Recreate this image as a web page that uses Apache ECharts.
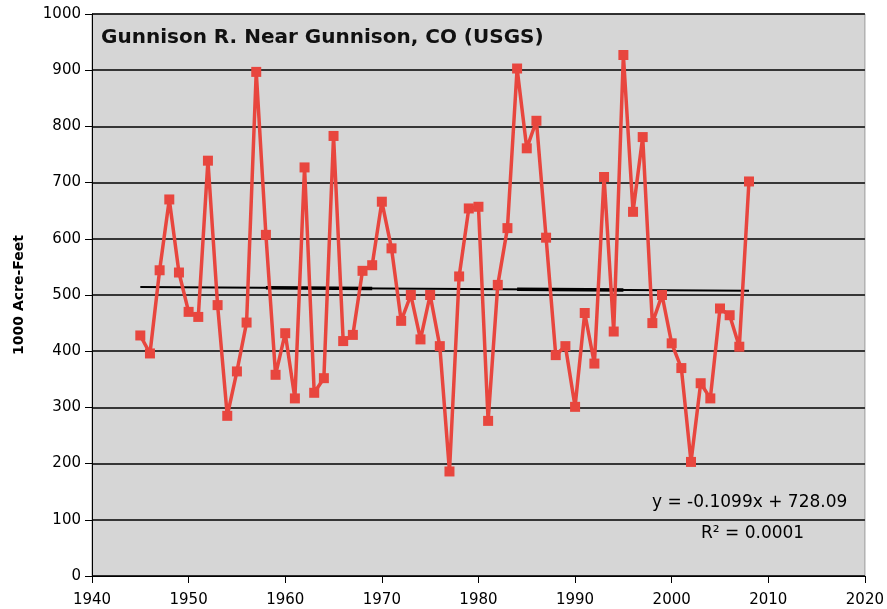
<!DOCTYPE html>
<html>
<head>
<meta charset="utf-8">
<script src="https://cdn.jsdelivr.net/npm/echarts@6/dist/echarts.min.js"></script>
<style>html,body{margin:0;padding:0;background:#fff}#c{width:887px;height:609px}</style>
</head>
<body>
<div id="c"></div>
<script>
const years = [1945,1946,1947,1948,1949,1950,1951,1952,1953,1954,1955,1956,1957,1958,1959,1960,1961,1962,1963,1964,1965,1966,1967,1968,1969,1970,1971,1972,1973,1974,1975,1976,1977,1978,1979,1980,1981,1982,1983,1984,1985,1986,1987,1988,1989,1990,1991,1992,1993,1994,1995,1996,1997,1998,1999,2000,2001,2002,2003,2004,2005,2006,2007,2008];
const flows = [428,396,544,670,540,470,461,739,482,285,364,451,897,607,358,432,316,727,326,352,783,418,429,543,553,666,583,454,500,421,500,409,186,533,654,657,276,518,619,903,761,810,602,393,409,301,468,378,710,435,927,648,781,450,500,414,370,203,343,316,476,464,408,702];
const xTicks = [1940,1950,1960,1970,1980,1990,2000,2010,2020];
const yTicks = [0,100,200,300,400,500,600,700,800,900,1000];
const trendSlope = -0.1099, trendIntercept = 728.09;
const trendYears = [1945, 2008];
const thickSeg1 = [1958, 1969];
const thickSeg2 = [1984, 1995];

const trendVal = y => trendSlope * y + trendIntercept;
const chart = echarts.init(document.getElementById('c'));
const font = 'DejaVu Sans, Verdana, sans-serif';
chart.setOption({
  animation: false,
  grid: {left: 92, right: 22, top: 14, bottom: 33, show: true, backgroundColor: '#d6d6d6', borderColor: '#9a9a9a', borderWidth: 1},
  title: {text: 'Gunnison R. Near Gunnison, CO (USGS)', left: 96, top: 23,
    textStyle: {fontFamily: font, fontWeight: 'bold', fontSize: 20, color: '#111'}},
  xAxis: {type: 'value', min: xTicks[0], max: xTicks[xTicks.length-1], interval: 10,
    axisLine: {lineStyle: {color: '#000', width: 1}},
    axisTick: {show: true, length: 7, lineStyle: {color: '#000'}},
    axisLabel: {color: '#000', fontFamily: font, fontSize: 15, margin: 17, formatter: v => String(v)},
    splitLine: {show: false}},
  yAxis: {type: 'value', min: yTicks[0], max: yTicks[yTicks.length-1], interval: 100,
    name: '1000 Acre-Feet', nameLocation: 'middle', nameGap: 66, nameRotate: 90,
    nameTextStyle: {fontFamily: font, fontWeight: 'bold', fontSize: 14, color: '#000'},
    axisLine: {show: true, lineStyle: {color: '#000', width: 1}},
    axisTick: {show: true, length: 7, lineStyle: {color: '#000'}},
    axisLabel: {color: '#000', fontFamily: font, fontSize: 15, margin: 11, formatter: v => String(v)},
    splitLine: {show: true, lineStyle: {color: '#000', width: 1.5}}},
  graphic: [
    {type: 'text', left: 652, top: 494, style: {text: 'y = -0.1099x + 728.09', font: '17px ' + font, fill: '#000'}},
    {type: 'text', left: 701, top: 525, style: {text: 'R² = 0.0001', font: '17px ' + font, fill: '#000'}}
  ],
  series: [
    {type: 'line', data: trendYears.map(y => [y, trendVal(y)]), symbol: 'none',
      lineStyle: {color: '#000', width: 2}, z: 3},
    {type: 'line', data: thickSeg1.map(y => [y, trendVal(y)]), symbol: 'none',
      lineStyle: {color: '#000', width: 3.5}, z: 3},
    {type: 'line', data: thickSeg2.map(y => [y, trendVal(y)]), symbol: 'none',
      lineStyle: {color: '#000', width: 3.5}, z: 3},
    {type: 'line', data: years.map((y, i) => [y, flows[i]]), symbol: 'rect', symbolSize: 10,
      itemStyle: {color: '#e8463e'}, lineStyle: {color: '#e8463e', width: 3.5}, z: 4}
  ]
});
</script>
</body>
</html>
